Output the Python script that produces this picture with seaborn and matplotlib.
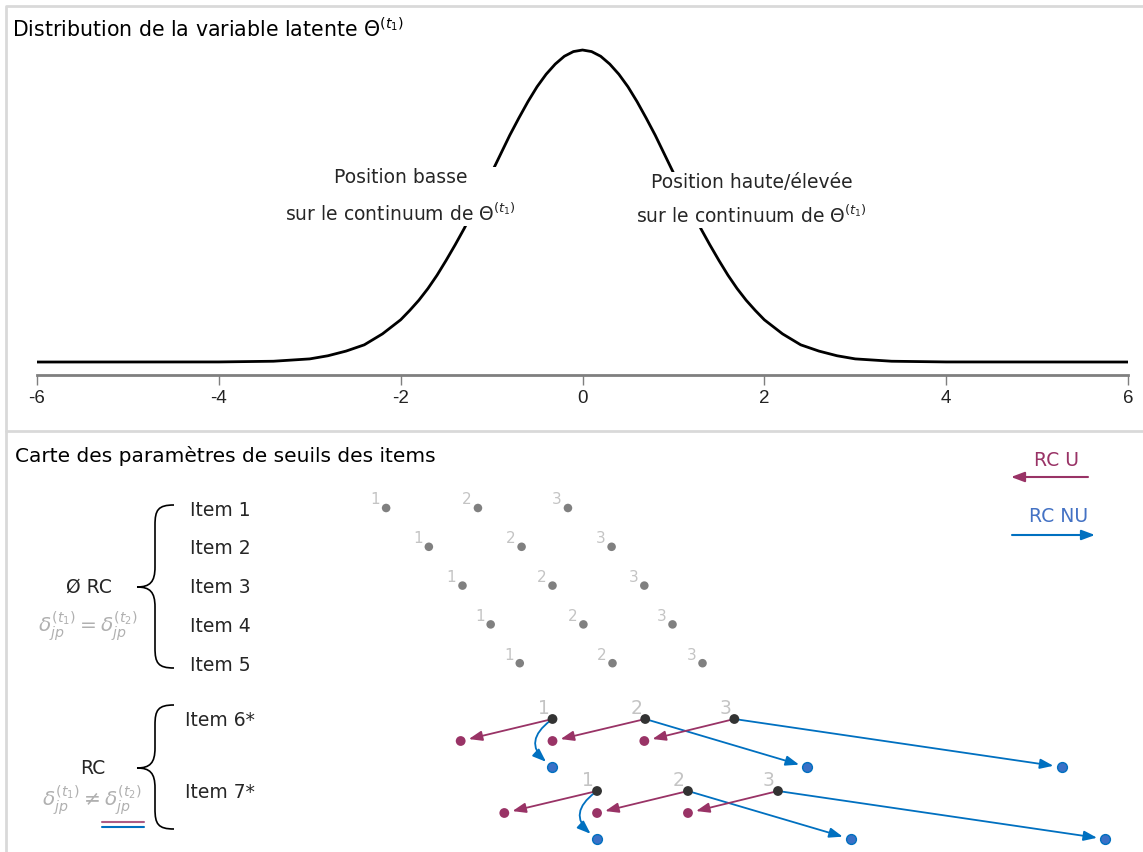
import matplotlib
matplotlib.use("Agg")
import matplotlib.pyplot as plt
from matplotlib.path import Path
from matplotlib.patches import PathPatch
import seaborn as sns
import pandas as pd

# --- data ------------------------------------------------------------------
# density of the latent variable (right half, mirrored below)
theta_half = [0.0, 0.1, 0.2, 0.3, 0.4, 0.5, 0.6, 0.7, 0.8, 0.9, 1.0,
              1.1, 1.2, 1.3, 1.4, 1.5, 1.6, 1.7, 1.8, 1.9, 2.0,
              2.2, 2.4, 2.6, 2.8, 3.0, 3.4, 4.0, 6.0]
dens_half = [0.399, 0.397, 0.391, 0.381, 0.368, 0.352, 0.333, 0.312, 0.290, 0.266, 0.242,
             0.218, 0.194, 0.171, 0.150, 0.130, 0.111, 0.094, 0.079, 0.066, 0.054,
             0.036, 0.022, 0.014, 0.008, 0.004, 0.001, 0.0001, 0.0]
xticks = [-6, -4, -2, 0, 2, 4, 6]

items_stable = ["Item 1", "Item 2", "Item 3", "Item 4", "Item 5"]
seuils_stable = [[-2.16, -1.15, -0.16],
                 [-1.69, -0.67, 0.32],
                 [-1.32, -0.33, 0.68],
                 [-1.01, 0.01, 0.99],
                 [-0.69, 0.33, 1.32]]

items_rc = ["Item 6*", "Item 7*"]
seuils_t1 = [[-0.33, 0.69, 1.67], [0.16, 1.16, 2.15]]
seuils_u = [[-1.34, -0.33, 0.68], [-0.86, 0.16, 1.16]]
seuils_nu = [[-0.33, 2.47, 5.27], [0.16, 2.95, 5.75]]
seuil_labels = ["1", "2", "3"]

# --- style -----------------------------------------------------------------
sns.set_theme(style="white")
plt.rcParams["font.family"] = ["DejaVu Sans"]
plt.rcParams["mathtext.fontset"] = "dejavusans"

purple = "#993366"
blue = "#0070c0"
blue_dot = "#3a70c6"
gray_dot = "#808080"
lab_gray = "#c4c4c4"
border = "#d9d9d9"
arrow_style = "-|>,head_length=0.8,head_width=0.3"
theta_t1 = r"$\Theta^{(t_1)}$"

W, H = 1143, 852
fig = plt.figure(figsize=(W / 100, H / 100), dpi=100)

# background axes in pixel units (frame, braces, static text)
bg = fig.add_axes([0, 0, 1, 1])
bg.set_xlim(0, W)
bg.set_ylim(H, 0)
bg.axis("off")
bg.plot([6, 6, W], [H, 6, 6], color=border, lw=2, solid_capstyle="butt")
bg.plot([6, W], [431, 431], color=border, lw=2)

bg.text(12, 29, "Distribution de la variable latente " + theta_t1,
        fontsize=14.8, va="center", ha="left", color="black")
bg.text(15, 456, "Carte des paramètres de seuils des items",
        fontsize=14.5, va="center", ha="left", color="black")

# --- top panel: density ----------------------------------------------------
x0, x1 = 37 / W, 1128 / W
ax_top = fig.add_axes([x0, 1 - 375 / H, x1 - x0, 335 / H])
ax_top.patch.set_alpha(0)
theta = [-t for t in reversed(theta_half[1:])] + theta_half
dens = list(reversed(dens_half[1:])) + dens_half
sns.lineplot(x=theta, y=dens, ax=ax_top, color="black", lw=2, sort=False,
             estimator=None)
ax_top.set_xlim(-6, 6)
ax_top.set_ylim(-0.0166, 0.4118)
for s in ["left", "right", "top"]:
    ax_top.spines[s].set_visible(False)
ax_top.spines["bottom"].set_color("#7f7f7f")
ax_top.spines["bottom"].set_linewidth(2)
ax_top.set_yticks([])
ax_top.set_xticks(xticks)
ax_top.set_xticklabels([str(t) for t in xticks])
ax_top.tick_params(axis="x", direction="out", length=7, width=1,
                   color="#7f7f7f", labelsize=13.5, labelcolor="#222222",
                   pad=4, bottom=True)
for lab in ax_top.get_xticklabels():
    lab.set_family(["Liberation Sans Narrow", "Liberation Sans"])
ax_top.set_xlabel("")
ax_top.set_ylabel("")

ax_top.text(-2.0, 0.212, "Position basse\nsur le continuum de " + theta_t1,
            ha="center", va="center", fontsize=13.5, linespacing=1.85, zorder=5,
            bbox=dict(facecolor="white", edgecolor="none", pad=1))
ax_top.text(1.86, 0.207, "Position haute/élevée\nsur le continuum de " + theta_t1,
            ha="center", va="center", fontsize=13.5, linespacing=1.7, zorder=5,
            bbox=dict(facecolor="white", edgecolor="none", pad=1))

# --- bottom panel: threshold map -------------------------------------------
ax_bot = fig.add_axes([x0, 0, x1 - x0, 421 / H])
ax_bot.patch.set_alpha(0)
ax_bot.set_xlim(-6, 6)
ax_bot.set_ylim(H, 431)
ax_bot.axis("off")

row0, step = 508, 38.8
rows_stable = [row0 + i * step for i in range(len(items_stable))]
rows_rc = [719, 791]
du, dnu = 22, 48

df_stable = pd.DataFrame(
    [(th, y, lab) for ths, y in zip(seuils_stable, rows_stable)
     for th, lab in zip(ths, seuil_labels)],
    columns=["theta", "y", "seuil"])
sns.scatterplot(data=df_stable, x="theta", y="y", ax=ax_bot, color=gray_dot,
                s=38, edgecolor="none", legend=False)
for _, r in df_stable.iterrows():
    ax_bot.annotate(r.seuil, (r.theta, r.y), xytext=(-11, 8),
                    textcoords="offset pixels", ha="center", va="center",
                    fontsize=11, color=lab_gray)

for name, y in zip(items_stable, rows_stable):
    bg.text(190, y + 2, name, fontsize=13.5, va="center", ha="left")

t1_rows, u_rows, nu_rows = [], [], []
for i, y in enumerate(rows_rc):
    for k in range(3):
        t1_rows.append((seuils_t1[i][k], y, seuil_labels[k]))
        u_rows.append((seuils_u[i][k], y + du))
        nu_rows.append((seuils_nu[i][k], y + dnu))
df_t1 = pd.DataFrame(t1_rows, columns=["theta", "y", "seuil"])
df_u = pd.DataFrame(u_rows, columns=["theta", "y"])
df_nu = pd.DataFrame(nu_rows, columns=["theta", "y"])

for (_, a), (_, u), (_, n) in zip(df_t1.iterrows(), df_u.iterrows(), df_nu.iterrows()):
    ax_bot.annotate("", xy=(u.theta, u.y), xytext=(a.theta, a.y),
                    arrowprops=dict(arrowstyle=arrow_style,
                                    color=purple, lw=1.3, shrinkA=0, shrinkB=6,
                                    mutation_scale=10))
    rad = 0.7 if abs(n.theta - a.theta) < 0.05 else 0.0
    ax_bot.annotate("", xy=(n.theta, n.y), xytext=(a.theta, a.y),
                    arrowprops=dict(arrowstyle=arrow_style,
                                    color=blue, lw=1.3, shrinkA=2, shrinkB=6,
                                    mutation_scale=10,
                                    connectionstyle=f"arc3,rad={rad}"))
    ax_bot.annotate(a.seuil, (a.theta, a.y), xytext=(-9, 11),
                    textcoords="offset pixels", ha="center", va="center",
                    fontsize=13.5, color=lab_gray)

sns.scatterplot(data=df_u, x="theta", y="y", ax=ax_bot, color=purple, s=50,
                edgecolor="none", legend=False, zorder=4)
sns.scatterplot(data=df_nu, x="theta", y="y", ax=ax_bot, color=blue_dot, s=50,
                edgecolor=blue, linewidth=1, legend=False, zorder=4)
sns.scatterplot(data=df_t1, x="theta", y="y", ax=ax_bot, color="#333333", s=50,
                edgecolor="none", legend=False, zorder=4)

for name, y in zip(items_rc, rows_rc):
    bg.text(185, y + 2, name, fontsize=13.5, va="center", ha="left")


# braces
def brace(ax, y_top, y_mid, y_bot, x_tip=137, xv=155, x_end=174):
    verts = [(x_end, y_top),
             (xv + 3, y_top), (xv, y_top + 5), (xv, y_top + 20),
             (xv, y_mid - 20),
             (xv, y_mid - 5), (xv - 5, y_mid), (x_tip, y_mid),
             (xv - 5, y_mid), (xv, y_mid + 5), (xv, y_mid + 20),
             (xv, y_bot - 20),
             (xv, y_bot - 5), (xv + 3, y_bot), (x_end, y_bot)]
    codes = [Path.MOVETO] + [Path.CURVE4] * 3 + [Path.LINETO] + \
            [Path.CURVE4] * 6 + [Path.LINETO] + [Path.CURVE4] * 3
    ax.add_patch(PathPatch(Path(verts, codes), facecolor="none",
                           edgecolor="black", lw=1.2))


brace(bg, 505, 587, 668)
brace(bg, 705, 768, 829)

bg.text(89, 587, "Ø RC", fontsize=13.5, ha="center", va="center")
bg.text(88, 627, r"$\delta_{jp}^{(t_1)} = \delta_{jp}^{(t_2)}$", fontsize=14.5,
        ha="center", va="center", color="#b0b0b0")
bg.text(93, 769, "RC", fontsize=13.5, ha="center", va="center")
bg.text(92, 801, r"$\delta_{jp}^{(t_1)} \neq \delta_{jp}^{(t_2)}$", fontsize=14.5,
        ha="center", va="center", color="#b0b0b0")
bg.plot([102, 144], [822, 822], color=purple, lw=1.5, alpha=0.8)
bg.plot([102, 144], [827, 827], color=blue, lw=1.5)

# legend
bg.text(1057, 461, "RC U", fontsize=13.5, ha="center", va="center", color=purple)
bg.annotate("", xy=(1011, 477), xytext=(1088, 477),
            arrowprops=dict(arrowstyle=arrow_style,
                            color=purple, lw=1.5, shrinkA=0, shrinkB=0,
                            mutation_scale=10))
bg.text(1059, 516, "RC NU", fontsize=13.5, ha="center", va="center", color="#4472c4")
bg.annotate("", xy=(1095, 535), xytext=(1012, 535),
            arrowprops=dict(arrowstyle=arrow_style,
                            color=blue, lw=1.5, shrinkA=0, shrinkB=0,
                            mutation_scale=10))

fig.savefig("out.png", dpi=100)
